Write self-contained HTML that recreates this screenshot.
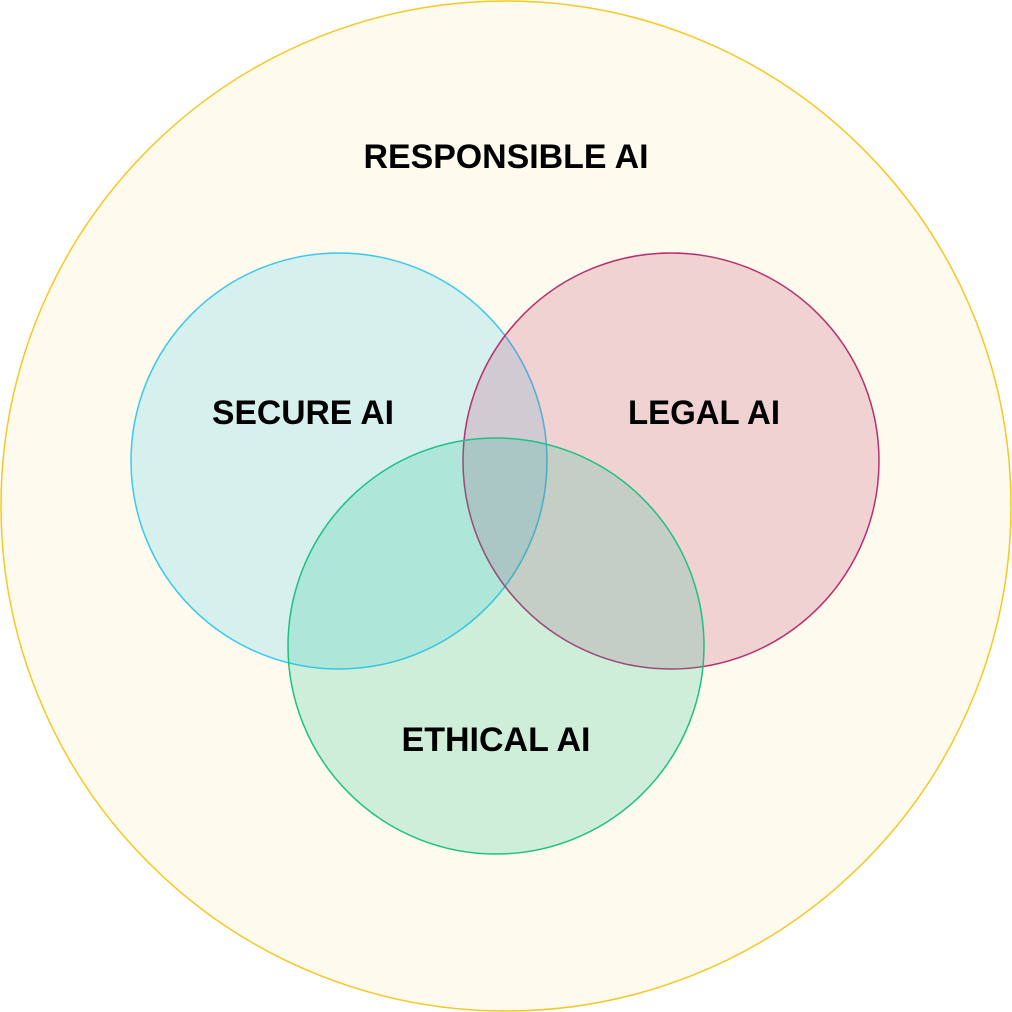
<!DOCTYPE html>
<html><head><meta charset="utf-8"><style>html,body{margin:0;padding:0;background:#fff}svg{display:block}</style></head>
<body>
<svg width="1012" height="1012" viewBox="0 0 1012 1012" xmlns="http://www.w3.org/2000/svg">
<circle cx="506" cy="506" r="505" fill="#fefaed" stroke="#f5c824" stroke-width="1.5"/>
<circle cx="339" cy="461" r="208" fill="rgba(56,198,238,0.2)" stroke="#3cc8ee" stroke-width="1.5"/>
<circle cx="671" cy="461" r="208" fill="rgba(184,48,110,0.2)" stroke="#b8306e" stroke-width="1.5"/>
<circle cx="496" cy="646" r="208" fill="rgba(19,190,147,0.2)" stroke="#1cc184" stroke-width="1.5"/>
<g font-family="Liberation Sans, sans-serif" font-weight="bold" font-size="34" fill="#000" text-anchor="middle">
<text x="506" y="168" textLength="285" lengthAdjust="spacingAndGlyphs">RESPONSIBLE AI</text>
<text x="303" y="424" textLength="182" lengthAdjust="spacingAndGlyphs">SECURE AI</text>
<text x="704" y="424" textLength="152" lengthAdjust="spacingAndGlyphs">LEGAL AI</text>
<text x="496" y="751" textLength="189" lengthAdjust="spacingAndGlyphs">ETHICAL AI</text>
</g>
</svg>
</body></html>
